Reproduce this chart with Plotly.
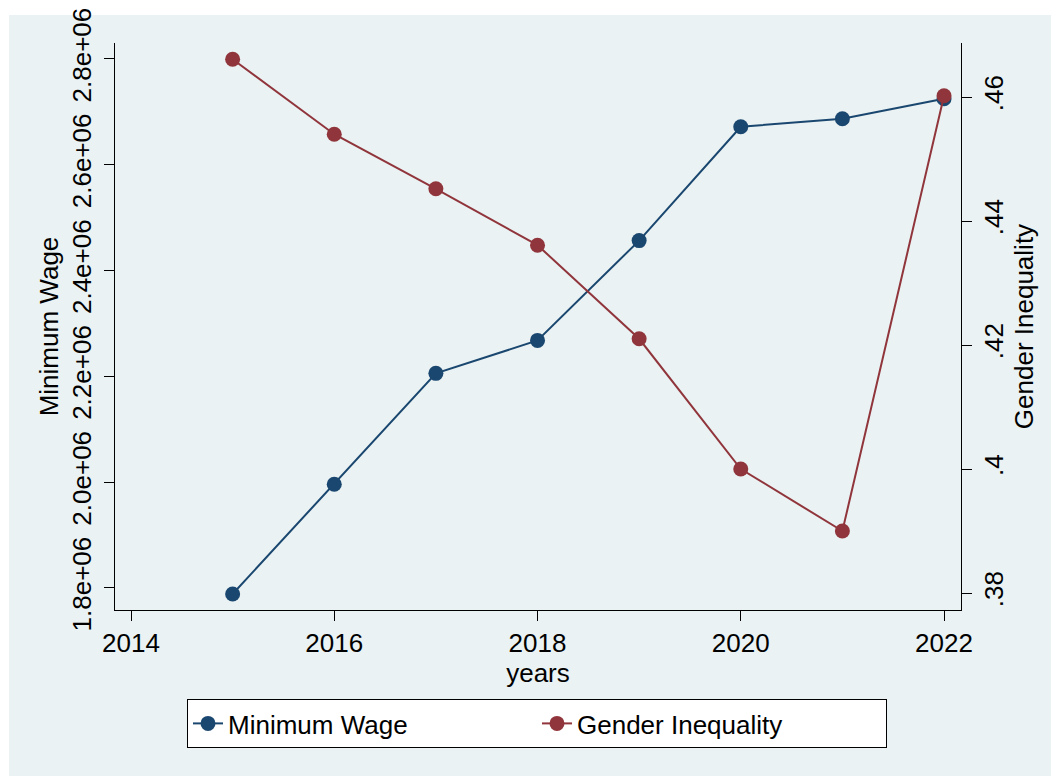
import plotly.graph_objects as go

years = [2015, 2016, 2017, 2018, 2019, 2020, 2021, 2022]
min_wage = [1788700, 1996200, 2205700, 2268000, 2456700, 2671800, 2687000, 2724800]
gender_ineq = [0.4661, 0.4540, 0.4452, 0.4361, 0.4210, 0.4000, 0.3900, 0.4602]

x_ticks = [2014, 2016, 2018, 2020, 2022]
left_ticks = [1800000, 2000000, 2200000, 2400000, 2600000, 2800000]
left_labels = ["1.8e+06", "2.0e+06", "2.2e+06", "2.4e+06", "2.6e+06", "2.8e+06"]
right_ticks = [0.38, 0.40, 0.42, 0.44, 0.46]
right_labels = [".38", ".4", ".42", ".44", ".46"]

NAVY = "#1A476F"
MAROON = "#90353B"
BG = "#EAF2F3"
FONT = "Liberation Sans, Arial, Helvetica, sans-serif"

fig = go.Figure()
fig.add_trace(go.Scatter(
    x=years, y=min_wage, name="Minimum Wage", mode="lines+markers",
    line=dict(color=NAVY, width=2), marker=dict(color=NAVY, size=15, line=dict(width=0)),
    yaxis="y"))
fig.add_trace(go.Scatter(
    x=years, y=gender_ineq, name="Gender Inequality", mode="lines+markers",
    line=dict(color=MAROON, width=2), marker=dict(color=MAROON, size=15, line=dict(width=0)),
    yaxis="y2"))

W, H = 1051, 776
L, R, T, B = 115, 90, 43, 166
pw, ph = W - L - R, H - T - B

def px_to_paper_x(px):
    return (px - L) / pw

def px_to_paper_y(py):
    return (H - B - py) / ph

fig.add_shape(type="rect", xref="paper", yref="paper",
              x0=px_to_paper_x(9), x1=px_to_paper_x(W + 5),
              y0=px_to_paper_y(H + 5), y1=px_to_paper_y(15),
              fillcolor=BG, line=dict(width=0), layer="below")

axis_font = dict(family=FONT, size=26, color="black")

fig.update_layout(
    width=W, height=H,
    margin=dict(l=L, r=R, t=T, b=B, autoexpand=False),
    paper_bgcolor="white", plot_bgcolor="white",
    font=dict(family=FONT, size=26, color="black"),
    showlegend=True,
    legend=dict(orientation="h", x=px_to_paper_x(537), xanchor="center",
                y=px_to_paper_y(699), yanchor="top",
                bgcolor="white", bordercolor="black", borderwidth=1,
                font=dict(family=FONT, size=26, color="black"),
                entrywidth=304, itemwidth=30),
    xaxis=dict(range=[2013.8425, 2022.167], tickvals=x_ticks,
               ticks="outside", ticklen=10, tickwidth=1, tickcolor="black",
               showline=True, linecolor="black", linewidth=1,
               showgrid=False, zeroline=False, tickfont=axis_font,
               ticklabelstandoff=0,
               title=dict(text="years", font=axis_font, standoff=0)),
    yaxis=dict(range=[1758400, 2830200], tickvals=left_ticks, ticktext=left_labels,
               tickangle=-90, ticks="outside", ticklen=10, tickwidth=1, tickcolor="black",
               showline=True, linecolor="black", linewidth=1,
               showgrid=True, gridcolor=BG, gridwidth=1.5, zeroline=False,
               tickfont=axis_font, ticklabelstandoff=3,
               title=dict(text="Minimum Wage", font=axis_font, standoff=0)),
    yaxis2=dict(range=[0.377258, 0.46871], tickvals=right_ticks, ticktext=right_labels,
                overlaying="y", side="right", anchor="x",
                tickangle=-90, ticks="outside", ticklen=10, tickwidth=1, tickcolor="black",
                showline=True, linecolor="black", linewidth=1,
                showgrid=False, zeroline=False,
                tickfont=axis_font, ticklabelstandoff=0,
                title=dict(text="Gender Inequality", font=axis_font, standoff=0)),
)

fig.write_html("out.html")
